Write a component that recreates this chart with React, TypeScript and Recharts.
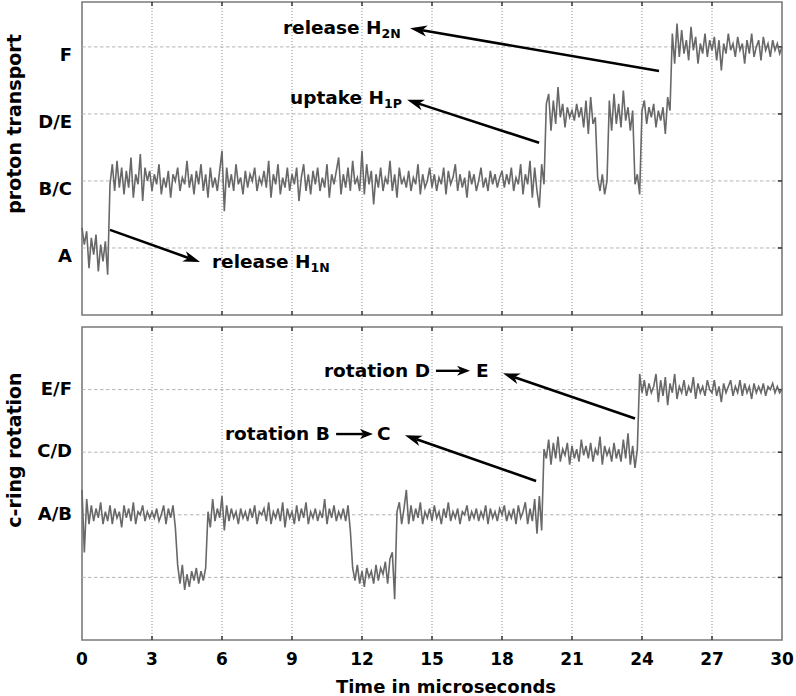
import React from "react"
import {
  LineChart,
  Line,
  XAxis,
  YAxis,
  ReferenceLine,
  ReferenceArea,
} from "recharts"

// sampling of both traces, in microseconds
const sampleStep = 0.1
const xTicks = [0, 3, 6, 9, 12, 15, 18, 21, 24, 27, 30]

const protonTicks = [0, 1, 2, 3]
const protonLabels = ["A", "B/C", "D/E", "F"]
const rotationTicks = [0, 1, 2, 3]
const rotationLabels = ["", "A/B", "C/D", "E/F"]

// proton transport state, one value per 0.1 µs
const protonTrace = [
  0.30, 0.05, 0.25, -0.30, 0.15, -0.10, 0.20, -0.35, 0.05, -0.20,
  0.10, -0.40, 0.95, 1.25, 0.85, 1.30, 0.90, 1.20, 0.80, 1.15,
  0.90, 1.35, 0.75, 1.10, 0.95, 1.40, 0.70, 1.20, 1.00, 1.15,
  0.85, 1.10, 0.95, 1.25, 0.80, 1.05, 0.90, 1.15, 0.75, 1.10,
  1.00, 1.20, 0.85, 1.05, 0.95, 1.30, 0.90, 1.10, 0.80, 1.15,
  0.95, 1.25, 0.85, 1.10, 0.75, 1.20, 0.90, 1.05, 0.85, 1.15,
  1.45, 0.55, 1.20, 0.90, 1.10, 0.85, 1.25, 0.95, 1.05, 0.80,
  1.15, 0.90, 1.10, 1.00, 1.20, 0.85, 1.05, 0.95, 1.15, 0.90,
  1.30, 0.75, 1.10, 0.95, 1.25, 0.80, 1.05, 0.90, 1.20, 0.85,
  1.10, 0.95, 1.20, 0.70, 1.05, 1.25, 0.85, 1.10, 0.80, 1.15,
  0.95, 1.20, 0.85, 1.05, 0.90, 1.25, 0.75, 1.10, 0.95, 1.15,
  1.35, 0.80, 1.10, 0.90, 1.20, 0.85, 1.30, 0.95, 1.05, 0.85,
  1.45, 0.80, 1.25, 0.95, 1.15, 0.65, 1.10, 0.90, 1.20, 0.85,
  1.05, 0.95, 1.30, 0.85, 1.10, 0.75, 1.20, 0.95, 1.05, 0.90,
  1.15, 0.85, 1.05, 0.95, 1.25, 0.80, 1.10, 0.90, 1.00, 1.20,
  0.90, 1.10, 0.85, 1.05, 0.95, 1.20, 0.80, 1.15, 0.95, 1.05,
  1.25, 0.85, 1.10, 0.90, 1.05, 0.75, 1.15, 0.95, 1.10, 0.85,
  1.00, 1.20, 0.90, 1.05, 0.85, 1.15, 0.95, 1.10, 0.90, 1.05,
  1.15, 0.90, 1.10, 0.95, 1.20, 0.85, 1.05, 0.95, 1.25, 0.80,
  1.10, 0.95, 1.30, 0.75, 1.20, 0.85, 0.60, 1.25, 0.95, 2.15,
  2.30, 1.75, 2.20, 1.85, 2.40, 1.95, 2.15, 1.80, 2.10, 1.95,
  2.05, 1.90, 2.15, 1.95, 2.10, 1.80, 2.20, 1.70, 2.25, 1.85,
  1.95, 1.05, 0.85, 1.10, 0.80, 1.00, 2.20, 1.75, 2.30, 1.85,
  2.15, 1.80, 2.35, 1.90, 2.10, 1.75, 2.05, 0.95, 1.10, 0.80,
  2.05, 2.20, 1.85, 2.10, 1.95, 2.15, 1.80, 2.05, 1.90, 2.10,
  1.70, 2.25, 2.05, 3.20, 2.75, 3.35, 2.85, 3.25, 2.90, 3.10,
  2.80, 3.30, 2.95, 3.15, 2.75, 3.05, 2.90, 3.20, 2.85, 3.10,
  2.95, 3.15, 2.80, 3.10, 2.65, 3.05, 2.90, 3.20, 2.95, 3.05,
  2.85, 3.15, 2.95, 3.05, 2.75, 3.10, 2.90, 3.20, 2.85, 3.00,
  3.10, 2.80, 3.15, 2.95, 3.05, 2.85, 3.10, 2.95, 3.05, 2.90,
  3.00,
]

// c-ring rotation state, same sampling
const rotationTrace = [
  1.40, 0.40, 1.25, 0.85, 1.15, 0.90, 1.10, 0.95, 1.20, 0.85,
  1.05, 0.90, 1.15, 0.85, 1.10, 0.95, 1.05, 0.80, 1.15, 0.95,
  1.10, 0.90, 1.20, 0.85, 1.05, 1.00, 1.15, 0.90, 1.05, 0.95,
  1.05, 0.95, 1.10, 0.90, 1.00, 1.15, 0.85, 1.10, 0.95, 1.15,
  0.80, 0.20, -0.10, 0.20, -0.20, 0.05, -0.15, 0.10, -0.05, 0.15,
  -0.10, 0.10, -0.05, 0.15, 1.05, 0.80, 1.25, 0.90, 1.10, 0.95,
  1.30, 0.75, 1.15, 0.90, 1.10, 0.95, 1.05, 0.85, 1.10, 0.95,
  1.05, 0.90, 1.10, 0.95, 1.15, 0.85, 1.05, 1.00, 1.10, 0.90,
  1.20, 0.85, 1.05, 0.95, 1.10, 0.90, 1.20, 0.80, 1.10, 0.95,
  1.05, 0.85, 1.15, 0.90, 1.10, 0.95, 1.20, 0.85, 1.05, 0.95,
  1.10, 0.90, 1.05, 0.95, 1.25, 0.85, 1.10, 0.95, 1.15, 0.90,
  1.05, 0.95, 1.10, 0.90, 1.15, 0.75, 0.15, -0.05, 0.20, -0.10,
  0.10, -0.15, 0.15, 0.00, 0.10, -0.10, 0.20, -0.05, 0.15, 0.05,
  0.25, -0.10, 0.30, 0.40, -0.35, 1.05, 1.20, 0.85, 1.10, 1.40,
  0.85, 1.15, 0.90, 1.10, 0.95, 1.20, 0.85, 1.05, 0.95, 1.10,
  0.90, 1.15, 0.95, 1.05, 0.85, 1.10, 0.95, 1.20, 0.90, 1.05,
  0.95, 1.10, 0.85, 1.05, 1.00, 1.15, 0.90, 1.05, 0.95, 1.10,
  0.90, 1.05, 0.95, 1.15, 0.85, 1.10, 0.95, 1.05, 0.90, 1.10,
  1.00, 1.15, 0.90, 1.05, 0.95, 1.10, 0.85, 1.15, 0.95, 1.05,
  1.20, 0.85, 1.10, 0.90, 1.25, 0.70, 1.30, 0.75, 2.05, 1.90,
  2.20, 1.80, 2.15, 1.90, 2.25, 1.85, 2.05, 1.95, 2.15, 1.80,
  2.10, 1.90, 2.05, 1.85, 2.20, 1.95, 2.10, 1.90, 2.15, 1.85,
  2.05, 1.95, 2.25, 1.80, 2.10, 1.95, 2.05, 1.85, 2.15, 1.90,
  2.05, 1.85, 2.20, 1.90, 2.30, 1.80, 2.10, 1.75, 2.05, 3.25,
  2.95, 3.15, 2.90, 3.10, 2.95, 3.05, 3.25, 2.80, 3.15, 2.90,
  3.20, 2.75, 3.10, 2.95, 3.25, 2.85, 3.05, 2.95, 3.15, 2.90,
  3.05, 2.95, 3.20, 2.85, 3.10, 2.95, 3.05, 2.90, 3.15, 3.00,
  2.95, 3.15, 2.90, 3.05, 2.80, 3.10, 2.95, 3.05, 3.15, 2.90,
  3.05, 2.95, 3.15, 2.90, 3.10, 2.95, 3.05, 2.85, 3.10, 2.95,
  3.05, 2.95, 3.10, 2.90, 3.05, 3.00, 3.10, 2.95, 3.05, 2.95,
  3.00,
]

// annotation arrows in data coords: [t, state] tail -> head
const protonArrows = [
  { from: [1.2, 0.27], to: [5.06, -0.21] },
  { from: [19.59, 1.57], to: [13.93, 2.21] },
  { from: [24.73, 2.64], to: [14.06, 3.28] },
]
const rotationArrows = [
  { from: [23.7, 2.54], to: [18.04, 3.26] },
  { from: [19.46, 1.54], to: [13.84, 2.27] },
]
const rotationInlineArrows = [
  { from: [15.17, 3.3], to: [16.63, 3.3] },
  { from: [10.89, 2.29], to: [12.47, 2.29] },
]

const FONT = "'DejaVu Sans', Verdana, sans-serif"
const TRACE = "#686868"
const FRAME = "#7a7a7a"

const toRows = (vals: number[]) =>
  vals.map((v, i) => ({ t: Math.round(i * sampleStep * 10) / 10, v }))

function arrow(p: any, head: number, half: number, w: number) {
  const { x1, y1, x2, y2 } = p
  const len = Math.hypot(x2 - x1, y2 - y1) || 1
  const ux = (x2 - x1) / len
  const uy = (y2 - y1) / len
  const bx = x2 - ux * head
  const by = y2 - uy * head
  const nx = x2 - ux * head * 0.72
  const ny = y2 - uy * head * 0.72
  const pts = `${x2},${y2} ${bx - uy * half},${by + ux * half} ${nx},${ny} ${bx + uy * half},${by - ux * half}`
  return (
    <g>
      <line x1={x1} y1={y1} x2={nx} y2={ny} stroke="#000" strokeWidth={w} />
      <polygon points={pts} fill="#000" />
    </g>
  )
}

function StateTick({ x, y, payload, labels, shift }: any) {
  return (
    <text
      x={x}
      y={y + shift}
      textAnchor="end"
      fontFamily={FONT}
      fontWeight="bold"
      fontSize={18}
      fill="#000"
    >
      {labels[payload.value]}
    </text>
  )
}

function TimeTick({ x, y, payload }: any) {
  return (
    <text
      x={x}
      y={y + 17}
      textAnchor="middle"
      fontFamily={FONT}
      fontWeight="bold"
      fontSize={17}
      fill="#000"
    >
      {payload.value}
    </text>
  )
}

function gridLines(yTicks: number[]) {
  return [
    ...xTicks.slice(1, -1).map((t) => (
      <ReferenceLine
        key={"vx" + t}
        x={t}
        stroke="#8a8a8a"
        strokeDasharray="1 2"
        strokeWidth={1}
      />
    )),
    ...yTicks.map((s) => (
      <ReferenceLine
        key={"hy" + s}
        y={s}
        stroke="#b4b4b4"
        strokeDasharray="3.5 2.5"
        strokeWidth={1}
      />
    )),
  ]
}

// small inward tick marks on the bottom/top edges and the right edge
function edgeTicks(domain: number[], yTicks: number[]) {
  const [lo, hi] = domain
  const dy = (hi - lo) * 0.013
  const dx = 30 * 0.006
  return [
    ...xTicks.slice(1, -1).flatMap((t) => [
      <ReferenceLine
        key={"tb" + t}
        segment={[{ x: t, y: lo }, { x: t, y: lo + dy }]}
        stroke="#333"
        strokeWidth={1.5}
      />,
      <ReferenceLine
        key={"tt" + t}
        segment={[{ x: t, y: hi }, { x: t, y: hi - dy }]}
        stroke="#333"
        strokeWidth={1.5}
      />,
    ]),
    ...yTicks.map((s) => (
      <ReferenceLine
        key={"tr" + s}
        segment={[{ x: 30, y: s }, { x: 30 - dx, y: s }]}
        stroke="#333"
        strokeWidth={1.5}
      />
    )),
  ]
}

export default function App() {
  const protonData = toRows(protonTrace)
  const rotationData = toRows(rotationTrace)
  const protonDomain = [-1, 3.67]
  const rotationDomain = [-1, 4]

  return (
    <div
      style={{
        position: "absolute",
        left: 0,
        top: 0,
        width: 796,
        height: 696,
        background: "#fff",
      }}
    >
      <div style={{ position: "absolute", left: 0, top: 0 }}>
        <LineChart
          width={796}
          height={320}
          data={protonData}
          margin={{ top: 2, right: 14, bottom: 5, left: 0 }}
        >
          <XAxis dataKey="t" type="number" domain={[0, 30]} ticks={xTicks} hide />
          <YAxis
            type="number"
            domain={protonDomain}
            ticks={protonTicks}
            allowDataOverflow
            width={82}
            tickMargin={4}
            axisLine={false}
            tickLine={false}
            tick={<StateTick labels={protonLabels} shift={14} />}
          />
          {gridLines(protonTicks)}
          {edgeTicks(protonDomain, protonTicks)}
          <Line
            type="linear"
            dataKey="v"
            stroke={TRACE}
            strokeWidth={1.6}
            dot={false}
            isAnimationActive={false}
          />
          {protonArrows.map((a, i) => (
            <ReferenceLine
              key={"pa" + i}
              segment={[
                { x: a.from[0], y: a.from[1] },
                { x: a.to[0], y: a.to[1] },
              ]}
              shape={(p: any) => arrow(p, 17, 5.5, 2.6)}
            />
          ))}
          <ReferenceArea
            x1={0}
            x2={30}
            y1={protonDomain[0]}
            y2={protonDomain[1]}
            fill="none"
            stroke={FRAME}
            strokeWidth={1.6}
          />
        </LineChart>
      </div>

      <div style={{ position: "absolute", left: 0, top: 320 }}>
        <LineChart
          width={796}
          height={376}
          data={rotationData}
          margin={{ top: 7, right: 14, bottom: 0, left: 0 }}
        >
          <XAxis
            dataKey="t"
            type="number"
            domain={[0, 30]}
            ticks={xTicks}
            height={56}
            axisLine={false}
            tickLine={false}
            tick={<TimeTick />}
          />
          <YAxis
            type="number"
            domain={rotationDomain}
            ticks={rotationTicks}
            allowDataOverflow
            width={82}
            tickMargin={4}
            axisLine={false}
            tickLine={false}
            tick={<StateTick labels={rotationLabels} shift={5} />}
          />
          {gridLines(rotationTicks)}
          {edgeTicks(rotationDomain, rotationTicks)}
          <Line
            type="linear"
            dataKey="v"
            stroke={TRACE}
            strokeWidth={1.6}
            dot={false}
            isAnimationActive={false}
          />
          {rotationArrows.map((a, i) => (
            <ReferenceLine
              key={"ra" + i}
              segment={[
                { x: a.from[0], y: a.from[1] },
                { x: a.to[0], y: a.to[1] },
              ]}
              shape={(p: any) => arrow(p, 17, 5.5, 2.6)}
            />
          ))}
          {rotationInlineArrows.map((a, i) => (
            <ReferenceLine
              key={"ri" + i}
              segment={[
                { x: a.from[0], y: a.from[1] },
                { x: a.to[0], y: a.to[1] },
              ]}
              shape={(p: any) => arrow(p, 13, 5, 2.4)}
            />
          ))}
          <ReferenceArea
            x1={0}
            x2={30}
            y1={rotationDomain[0]}
            y2={rotationDomain[1]}
            fill="none"
            stroke={FRAME}
            strokeWidth={1.6}
          />
        </LineChart>
      </div>

      <svg
        width={796}
        height={696}
        style={{ position: "absolute", left: 0, top: 0, pointerEvents: "none" }}
        fontFamily={FONT}
        fontWeight="bold"
        fontSize={18.5}
      >
        <text x={21} y={124} transform="rotate(-90 21 124)" textAnchor="middle" fontSize={19}>
          proton transport
        </text>
        <text x={21} y={450} transform="rotate(-90 21 450)" textAnchor="middle" fontSize={19}>
          c-ring rotation
        </text>
        <text x={446} y={693} textAnchor="middle" fontSize={18}>
          Time in microseconds
        </text>

        <text x={212} y={268}>
          release H
          <tspan fontSize={12.5} dy={4}>1N</tspan>
        </text>
        <text x={290} y={104}>
          uptake H
          <tspan fontSize={12.5} dy={4}>1P</tspan>
        </text>
        <text x={283} y={34}>
          release H
          <tspan fontSize={12.5} dy={4}>2N</tspan>
        </text>

        <text x={324} y={377}>rotation D</text>
        <text x={476} y={377}>E</text>
        <text x={225} y={440}>rotation B</text>
        <text x={377} y={440}>C</text>
      </svg>
    </div>
  )
}
